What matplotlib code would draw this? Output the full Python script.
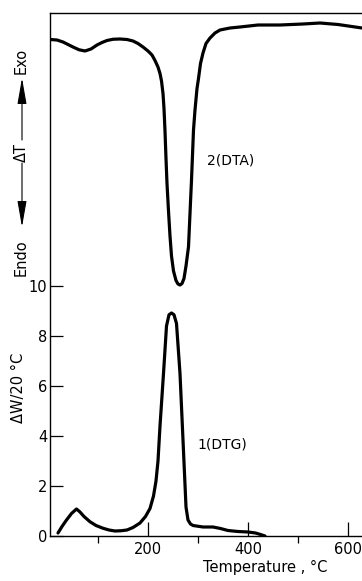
import matplotlib
matplotlib.use("Agg")
from matplotlib import pyplot as plt
from matplotlib.patches import FancyArrowPatch

# DTG curve (lower part, %/20 °C)
dtg_t = [20, 28, 37, 47, 57, 64, 72, 84, 96, 110, 122, 134, 146, 158, 170,
         184, 195, 204, 211, 216, 220, 224, 231, 237, 242, 247, 252, 257, 264,
         270, 276, 280, 285, 290, 310, 330, 345, 360, 380, 400, 415, 425, 434]
dtg_y = [0.12, 0.38, 0.64, 0.9, 1.08, 0.96, 0.78, 0.57, 0.42, 0.31, 0.24, 0.2,
         0.21, 0.24, 0.34, 0.52, 0.78, 1.1, 1.6, 2.2, 3.0, 4.4, 6.5, 8.4, 8.85,
         8.92, 8.85, 8.5, 6.5, 3.84, 1.16, 0.64, 0.48, 0.42, 0.36, 0.36, 0.3,
         0.22, 0.18, 0.16, 0.12, 0.06, 0.0]

# DTA curve (upper part, arbitrary units placed above the DTG scale)
dta_t = [4, 18, 30, 40, 50, 62, 74, 86, 98, 108, 118, 130, 144, 158, 170, 180,
         190, 200, 208, 214, 220, 224, 227, 230, 232, 234, 236, 238, 241, 244,
         247, 251, 256, 260, 264, 268, 272, 276, 281, 284, 287, 291, 294, 298,
         301, 305, 310, 316, 324, 334, 344, 364, 384, 420, 464, 510, 544, 580,
         628]
dta_y = [19.86, 19.84, 19.76, 19.66, 19.56, 19.45, 19.4, 19.48, 19.64, 19.74,
         19.82, 19.87, 19.88, 19.86, 19.8, 19.7, 19.56, 19.4, 19.24, 19.02,
         18.76, 18.5, 18.2, 17.7, 17.1, 16.2, 15.1, 14.1, 13.0, 12.0, 11.2,
         10.6, 10.22, 10.08, 10.04, 10.1, 10.3, 10.8, 11.57, 12.9, 14.24, 16.24,
         17.04, 17.9, 18.3, 18.9, 19.32, 19.7, 19.92, 20.12, 20.24, 20.32,
         20.36, 20.44, 20.44, 20.48, 20.52, 20.46, 20.32]

fig = plt.figure(figsize=(3.62, 5.81), dpi=100)
ax = fig.add_axes([50 / 362, 45 / 581, 312 / 362, 523 / 581])

ax.plot(dtg_t, dtg_y, color='black', lw=2.3, solid_capstyle='round',
        solid_joinstyle='round')
ax.plot(dta_t, dta_y, color='black', lw=2.3, solid_capstyle='round',
        solid_joinstyle='round')

ax.set_xlim(4, 628)
ax.set_ylim(0, 20.92)
ax.spines['right'].set_visible(False)
for s in ['left', 'bottom', 'top']:
    ax.spines[s].set_linewidth(1.0)

ax.set_xticks([200, 400, 600])
ax.set_xticks([100, 300, 500], minor=True)
ax.set_yticks([0, 2, 4, 6, 8, 10])
ax.tick_params(axis='both', direction='in', labelsize=10.5, width=0.9)
ax.tick_params(axis='x', which='major', length=10, pad=4)
ax.tick_params(axis='x', which='minor', length=5, width=0.9)
ax.tick_params(axis='y', length=9, pad=2)

ax.text(318, 15.0, '2(DTA)', fontsize=10, va='center', ha='left')
ax.text(298, 3.65, '1(DTG)', fontsize=10, va='center', ha='left')
ax.set_xlabel('Temperature , °C', fontsize=10.5)
ax.xaxis.set_label_coords(0.69, -0.045)

fig.text(18 / 362, 1 - 388 / 581, 'ΔW/20 °C', rotation=90, fontsize=10.5,
         ha='center', va='center')

# Endo / Exo label with arrows
fig.text(21 / 362, 1 - 61 / 581, 'Exo', rotation=90, fontsize=10.5,
         ha='center', va='center')
fig.text(21 / 362, 1 - 152 / 581, 'ΔT', rotation=90, fontsize=10.5,
         ha='center', va='center')
fig.text(21 / 362, 1 - 258 / 581, 'Endo', rotation=90, fontsize=10.5,
         ha='center', va='center')
arrow = dict(arrowstyle='-|>,head_length=1.6,head_width=0.28', color='black',
             lw=0.8, mutation_scale=10, shrinkA=0, shrinkB=0)
fig.add_artist(FancyArrowPatch((22 / 362, 1 - 140 / 581),
                               (22 / 362, 1 - 78 / 581),
                               transform=fig.transFigure, **arrow))
fig.add_artist(FancyArrowPatch((22 / 362, 1 - 163 / 581),
                               (22 / 362, 1 - 227 / 581),
                               transform=fig.transFigure, **arrow))

fig.savefig('out.png', dpi=100)
